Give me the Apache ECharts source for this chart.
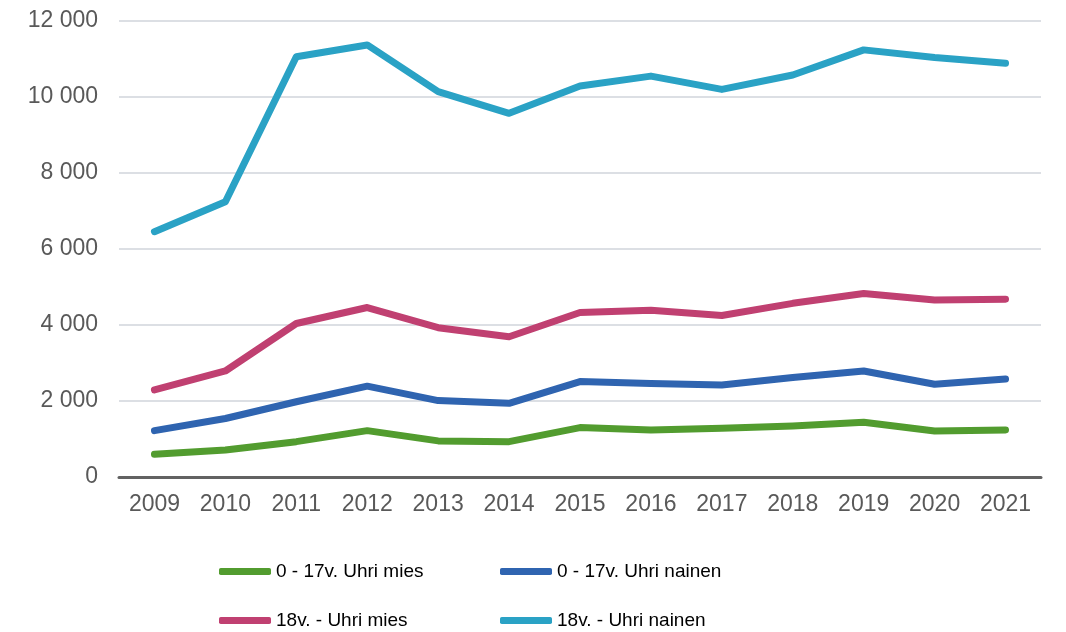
<!DOCTYPE html>
<html>
<head>
<meta charset="utf-8">
<script src="https://cdn.jsdelivr.net/npm/echarts@6/dist/echarts.min.js"></script>
<style>
  html, body { margin: 0; padding: 0; background: #fff; }
  #main { width: 1066px; height: 632px; }
</style>
</head>
<body>
<div id="main"></div>
<script>
var years = ["2009", "2010", "2011", "2012", "2013", "2014", "2015", "2016", "2017", "2018", "2019", "2020", "2021"];
var boysVictims = [600, 710, 930, 1220, 950, 930, 1300, 1240, 1280, 1340, 1440, 1210, 1240];
var girlsVictims = [1220, 1540, 1980, 2390, 2010, 1940, 2510, 2460, 2420, 2620, 2790, 2440, 2580];
var menVictims = [2290, 2790, 4040, 4460, 3930, 3690, 4330, 4390, 4250, 4570, 4830, 4660, 4680];
var womenVictims = [6455, 7245, 11060, 11370, 10140, 9570, 10290, 10550, 10200, 10580, 11240, 11040, 10890];

var names = ["0 - 17v. Uhri mies", "0 - 17v. Uhri nainen", "18v. - Uhri mies", "18v. - Uhri nainen"];
var colors = ["#529c2f", "#2f64b0", "#c04071", "#2aa2c5"];
var font = "'Liberation Sans', Arial, sans-serif";

var myChart = echarts.init(document.getElementById("main"));

function lineSeries(i, data) {
  return {
    name: names[i],
    type: "line",
    data: data,
    symbol: "none",
    lineStyle: { width: 7, color: colors[i], cap: "round", join: "round" },
    itemStyle: { color: colors[i] },
    z: 3
  };
}

function legendItem(i, left, top) {
  return {
    data: [names[i]],
    left: left,
    top: top,
    padding: 0,
    icon: "roundRect",
    itemWidth: 52,
    itemHeight: 7,
    selectedMode: false,
    textStyle: { fontFamily: font, fontSize: 19, color: "#000" }
  };
}

var option = {
  animation: false,
  grid: { left: 119, right: 25, top: 21, bottom: 155 },
  xAxis: {
    type: "category",
    data: years,
    axisLine: { lineStyle: { color: "#626262", width: 3 } },
    axisTick: { show: false },
    axisLabel: { fontFamily: font, fontSize: 23, color: "#595959", margin: 16 }
  },
  yAxis: {
    type: "value",
    min: 0,
    max: 12000,
    interval: 2000,
    axisLine: { show: false },
    axisTick: { show: false },
    splitLine: { lineStyle: { color: "#dcdfe4", width: 2 } },
    axisLabel: {
      fontFamily: font,
      fontSize: 23,
      color: "#595959",
      margin: 21,
      formatter: function (v) {
        return String(v).replace(/\B(?=(\d{3})+(?!\d))/g, " ");
      }
    }
  },
  legend: [
    legendItem(0, 219, 562),
    legendItem(1, 500, 562),
    legendItem(2, 219, 611),
    legendItem(3, 500, 611)
  ],
  series: [
    lineSeries(0, boysVictims),
    lineSeries(1, girlsVictims),
    lineSeries(2, menVictims),
    lineSeries(3, womenVictims)
  ]
};

myChart.setOption(option);
</script>
</body>
</html>
